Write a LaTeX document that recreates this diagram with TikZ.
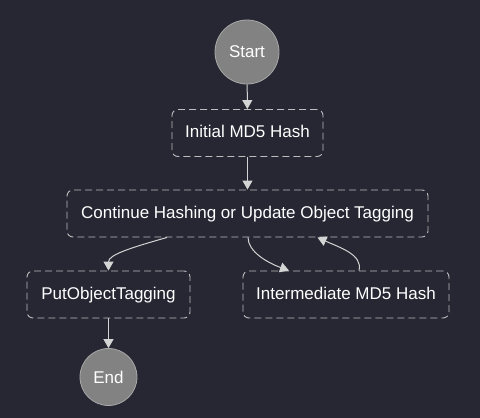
\documentclass[tikz,border=0pt]{standalone}
\usepackage{fontspec}
\setmainfont{Liberation Sans}
\usetikzlibrary{arrows.meta}
\definecolor{bg}{HTML}{262733}
\definecolor{circfill}{HTML}{828282}
\definecolor{circline}{HTML}{A8A8A8}
\definecolor{boxline}{HTML}{BDBDBD}
\definecolor{edgecol}{HTML}{D4D4D4}
\begin{document}
\begin{tikzpicture}[x=1pt,y=-1pt,
  every node/.style={text=white,font=\fontsize{17}{20}\selectfont},
  termnode/.style={circle,fill=circfill,draw=circline,line width=0.8pt,inner sep=0pt},
  statebox/.style={draw=boxline,dash pattern=on 7pt off 4pt,rounded corners=6pt,line width=0.9pt,minimum height=47pt,inner sep=0pt,text height=12.5pt,text depth=3.5pt},
  flow/.style={draw=edgecol,line width=1pt,-{Triangle[length=9pt,width=10pt]}}
  ]
\fill[bg] (0,0) rectangle (480,418);
\useasboundingbox (0,0) rectangle (480,418);
\node[termnode,minimum size=64pt] (start) at (247,52) {Start};
\node[statebox,minimum width=151pt] (init) at (247.5,133) {Initial MD5 Hash};
\node[statebox,minimum width=361pt] (cont) at (247.5,213.5) {Continue Hashing or Update Object Tagging};
\node[statebox,minimum width=163pt] (put) at (108.5,294.5) {PutObjectTagging};
\node[statebox,minimum width=206pt] (inter) at (346,294.5) {Intermediate MD5 Hash};
\node[termnode,minimum size=57pt] (end) at (108.5,377) {End};
\draw[flow] (start) -- (init);
\draw[flow] (init) -- (cont);
\draw[flow] ([xshift=-80.5pt]cont.south) .. controls +(-35,10) and +(0,-16) .. (put.north);
\draw[flow] ([xshift=0.5pt]cont.south) .. controls +(0,14) and +(-22,-8) .. ([xshift=-57pt]inter.north);
\draw[flow] ([xshift=13pt]inter.north) .. controls +(4,-16) and +(22,10) .. ([xshift=70pt]cont.south);
\draw[flow] (put) -- (end);
\end{tikzpicture}
\end{document}
